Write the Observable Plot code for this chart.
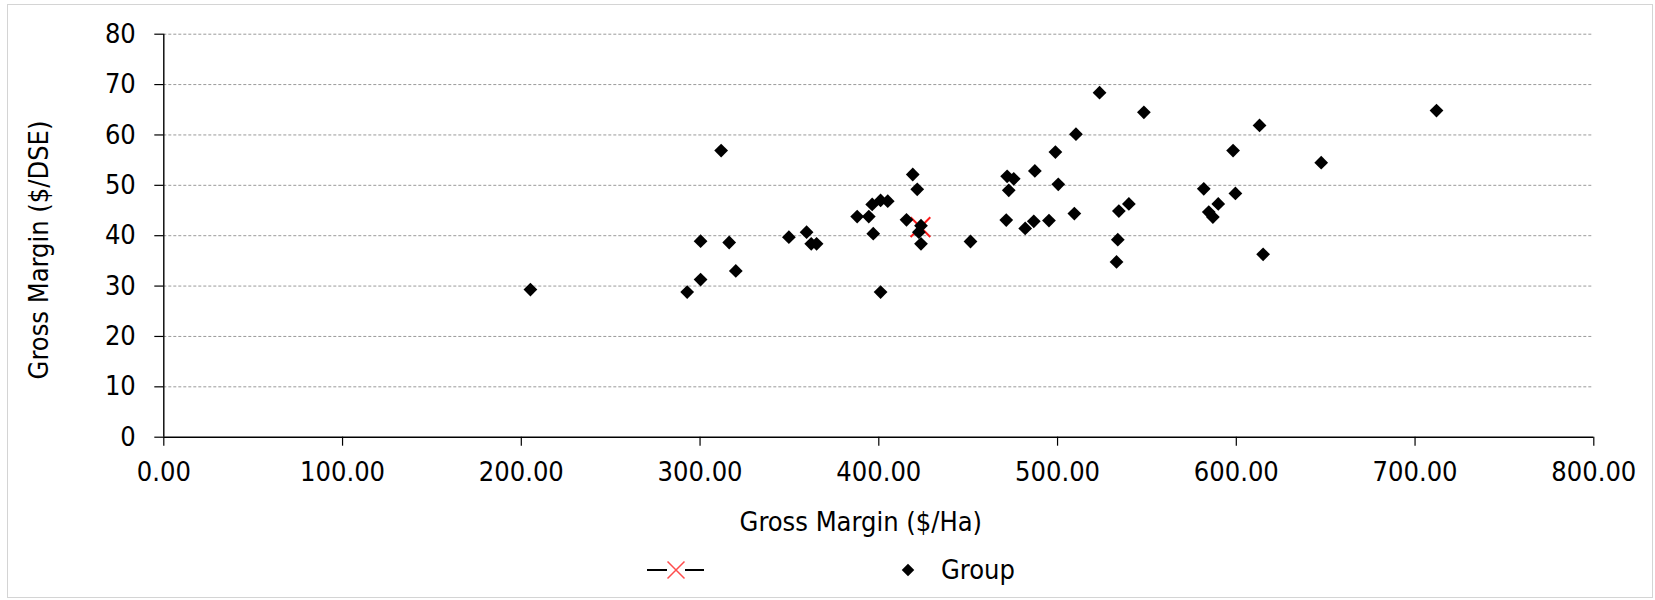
<!DOCTYPE html>
<html><head><meta charset="utf-8">
<script src="https://cdn.jsdelivr.net/npm/d3@7"></script>
<script src="https://cdn.jsdelivr.net/npm/@observablehq/plot@0.6"></script>
<style>
body{margin:0;background:#fff;}
#wrap{position:relative;width:1655px;height:600px;overflow:hidden;background:#fff;}
#frame{position:absolute;left:7px;top:4px;width:1646px;height:594px;border:1px solid #d4d4d4;box-sizing:border-box;}
#chart{position:absolute;left:0;top:0;}
#legend{position:absolute;left:0;top:545px;}
#ytitle{position:absolute;left:37.5px;top:250px;transform:translate(-50%,-50%) rotate(-90deg);white-space:nowrap;
  font-family:"DejaVu Sans Condensed","DejaVu Sans",Verdana,sans-serif;font-size:27px;color:#000;line-height:1;}
</style></head><body>
<div id="wrap"><div id="frame"></div><div id="chart"></div><div id="ytitle"></div><svg id="legend" width="1655" height="50"></svg></div>
<script>
const FONT = '"DejaVu Sans Condensed","DejaVu Sans",Verdana,sans-serif';
const FS = 27;

// Group farms: Gross Margin ($/Ha) vs Gross Margin ($/DSE)
const groupHa = [205.1,292.8,300.3,300.3,311.8,316.3,320.0,349.7,359.6,362.2,365.2,387.9,394.4,396.9,396.3,401.0,405.0,401.0,419.0,421.5,415.5,423.6,422.4,423.6,451.3,471.8,475.5,472.7,471.3,481.9,486.7,495.2,487.3,498.8,500.4,510.3,509.4,523.5,548.3,534.3,539.9,533.7,533.0,581.8,584.6,586.9,589.9,598.2,599.5,613.0,615.0,647.5,712.0];
const groupDSE = [29.3,28.8,31.3,38.9,56.9,38.65,33.0,39.7,40.7,38.4,38.4,43.8,43.8,40.4,46.2,47.0,46.85,28.8,52.15,49.2,43.15,42.0,40.7,38.4,38.85,51.8,51.3,49.0,43.1,41.45,42.85,43.0,52.85,56.6,50.2,60.15,44.4,68.4,64.5,44.9,46.3,39.2,34.8,49.3,44.7,43.7,46.3,56.9,48.4,61.9,36.3,54.5,64.85];
// Highlighted (own) farm
const refHa = [423.3];
const refDSE = [41.7];

const xTicks = [0,100,200,300,400,500,600,700,800];
const yTicks = [0,10,20,30,40,50,60,70,80];
const xTitle = "Gross Margin ($/Ha)";
const yTitle = "Gross Margin ($/DSE)";
const legendLabels = ["", "Group"];

const group = groupHa.map((h,i)=>({ha:h, dse:groupDSE[i]}));
const ref = refHa.map((h,i)=>({ha:h, dse:refDSE[i]}));

const chart = Plot.plot({
  width:1655, height:500,
  marginLeft:163.3, marginRight:61.7, marginTop:33.7, marginBottom:63.3,
  style:{fontFamily:FONT, fontSize:FS+"px", color:"#000", background:"transparent", overflow:"visible"},
  x:{domain:[0,800]},
  y:{domain:[0,80]},
  marks:[
    Plot.ruleY(yTicks.filter(d=>d>0), {stroke:"#9a9a9a", strokeDasharray:"3,2", strokeWidth:1}),
    Plot.axisY(yTicks, {tickSize:9, tickPadding:19, label:null, stroke:"#000", fill:"#000", fontSize:FS, strokeWidth:1.2}),
    Plot.axisX(xTicks, {tickSize:9, tickPadding:16, label:null, tickFormat:d3.format(".2f"), stroke:"#000", fill:"#000", fontSize:FS, strokeWidth:1.2}),
    Plot.ruleX([0], {stroke:"#000", strokeWidth:1.4}),
    Plot.ruleY([0], {stroke:"#000", strokeWidth:1.4}),
    Plot.dot(ref, {x:"ha", y:"dse", symbol:"times", r:9, stroke:"#ff1a1a", strokeWidth:2}),
    Plot.dot(group, {x:"ha", y:"dse", symbol:"diamond2", r:6.2, fill:"#000", stroke:"none"}),
    Plot.text([xTitle], {frameAnchor:"bottom", lineAnchor:"bottom", dy:94, dx:-18, fontSize:FS, fill:"#000"})
  ]
});
document.getElementById("chart").appendChild(chart);
document.getElementById("ytitle").textContent = yTitle;

// Legend
const lg = d3.select("#legend");
const cy = 25;
lg.append("line").attr("x1",647).attr("x2",667).attr("y1",cy).attr("y2",cy).attr("stroke","#000").attr("stroke-width",2);
lg.append("line").attr("x1",685).attr("x2",704).attr("y1",cy).attr("y2",cy).attr("stroke","#000").attr("stroke-width",2);
lg.append("path").attr("transform",`translate(676,${cy})`)
  .attr("d", d3.symbol(d3.symbolTimes, 190)()).attr("stroke","#ff4d4d").attr("stroke-width",1.5).attr("fill","none");
lg.append("text").attr("x",712).attr("y",cy).attr("dy","0.32em").attr("font-family",FONT).attr("font-size",FS).text(legendLabels[0]);
lg.append("path").attr("transform",`translate(908,${cy})`)
  .attr("d", d3.symbol(d3.symbolDiamond2, 100)()).attr("fill","#000");
lg.append("text").attr("x",941).attr("y",cy).attr("dy","0.32em").attr("font-family",FONT).attr("font-size",FS).attr("fill","#000").text(legendLabels[1]);
</script>
</body></html>
